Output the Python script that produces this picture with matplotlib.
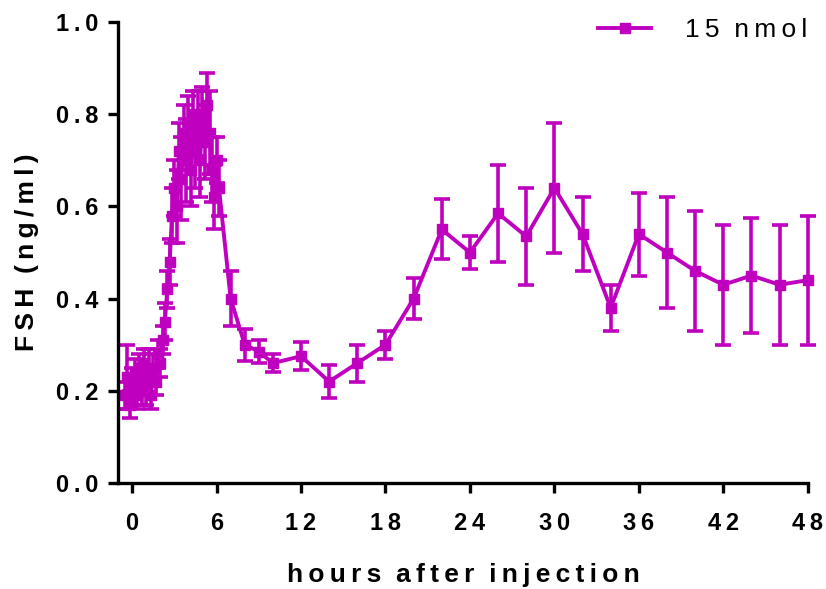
import numpy as np
import matplotlib.pyplot as plt

# sampling times (hours after injection)
hours = [-0.5, -0.33, -0.17, 0.0, 0.17, 0.33, 0.5, 0.67, 0.83, 1.0,
         1.17, 1.33, 1.5, 1.67, 1.83, 2.0, 2.17, 2.33, 2.5, 2.67,
         2.83, 3.0, 3.17, 3.33, 3.5, 3.67, 3.83, 4.0, 4.17, 4.33,
         4.5, 4.67, 4.83, 5.0, 5.17, 5.33, 5.5, 5.67, 5.83, 6.0,
         6.17, 7, 8, 9, 10, 12, 14, 16, 18, 20,
         22, 24, 26, 28, 30, 32, 34, 36, 38, 40,
         42, 44, 46, 48]
fsh = [0.19, 0.23, 0.17, 0.21, 0.24, 0.19, 0.25, 0.21, 0.26, 0.20,
       0.24, 0.19, 0.25, 0.22, 0.28, 0.26, 0.31, 0.35, 0.42, 0.48,
       0.58, 0.64, 0.60, 0.72, 0.66, 0.76, 0.70, 0.78, 0.68, 0.80,
       0.72, 0.78, 0.70, 0.80, 0.74, 0.82, 0.76, 0.68, 0.62, 0.70,
       0.64, 0.40, 0.30, 0.285, 0.26, 0.275, 0.22, 0.26, 0.30, 0.40,
       0.55, 0.50, 0.585, 0.535, 0.64, 0.54, 0.38, 0.54, 0.50, 0.46,
       0.43, 0.45, 0.43, 0.44]
sem = [0.03, 0.07, 0.03, 0.04, 0.03, 0.03, 0.03, 0.04, 0.03, 0.03,
       0.05, 0.03, 0.03, 0.03, 0.03, 0.03, 0.03, 0.04, 0.04, 0.05,
       0.06, 0.06, 0.08, 0.06, 0.09, 0.06, 0.09, 0.06, 0.08, 0.05,
       0.08, 0.07, 0.08, 0.06, 0.08, 0.07, 0.09, 0.07, 0.07, 0.05,
       0.06, 0.06, 0.035, 0.025, 0.02, 0.03, 0.035, 0.04, 0.03, 0.045,
       0.065, 0.035, 0.105, 0.105, 0.14, 0.08, 0.05, 0.09, 0.12, 0.13,
       0.13, 0.125, 0.13, 0.14]
xticks = [0, 6, 12, 18, 24, 30, 36, 42, 48]
yticks = [0.0, 0.2, 0.4, 0.6, 0.8, 1.0]


def spaced(s):
    # Prism-style letter spacing
    return '\u2009'.join(s)


plt.rcParams['font.family'] = ['Liberation Sans', 'DejaVu Sans']
col = '#BF00BF'

fig = plt.figure(figsize=(8.26, 5.89), dpi=100)
ax = fig.add_axes([0.1429, 0.18, 0.835, 0.7826])

eb = ax.errorbar(hours, fsh, yerr=sem, color=col, marker='s', ms=7.5,
                 lw=2.8, elinewidth=2.6, capsize=6, capthick=2.6, clip_on=False)
for art in eb.lines[1] + eb.lines[2]:
    art.set_clip_on(False)

ax.set_xlim(-1, 48)
ax.set_ylim(0, 1.0)
ax.set_xticks(xticks)
ax.set_xticklabels([spaced(str(v)) for v in xticks], fontweight='bold', fontsize=17)
ax.set_yticks(yticks)
ax.set_yticklabels([spaced('%.1f' % v) for v in yticks], fontweight='bold', fontsize=17)
ax.tick_params(width=2.4, length=7)
ax.tick_params(axis='x', pad=14)
ax.tick_params(axis='y', pad=7)

for s in ['top', 'right']:
    ax.spines[s].set_visible(False)
for s in ['left', 'bottom']:
    ax.spines[s].set_linewidth(2.4)

ax.set_xlabel(spaced('hours') + '  ' + spaced('after') + '  ' + spaced('injection'),
              fontweight='bold', fontsize=19, labelpad=20)
ax.set_ylabel(spaced('FSH') + '  ' + spaced('(ng/ml)'),
              fontweight='bold', fontsize=19, labelpad=12)

fig.legend([eb.lines[0]], [spaced('15') + '  ' + spaced('nmol')], loc='upper right',
           bbox_to_anchor=(1.0, 1.0), frameon=False, fontsize=19,
           handlelength=2.0, handletextpad=1.3, borderaxespad=0.3)

fig.savefig('out.png', dpi=100)
